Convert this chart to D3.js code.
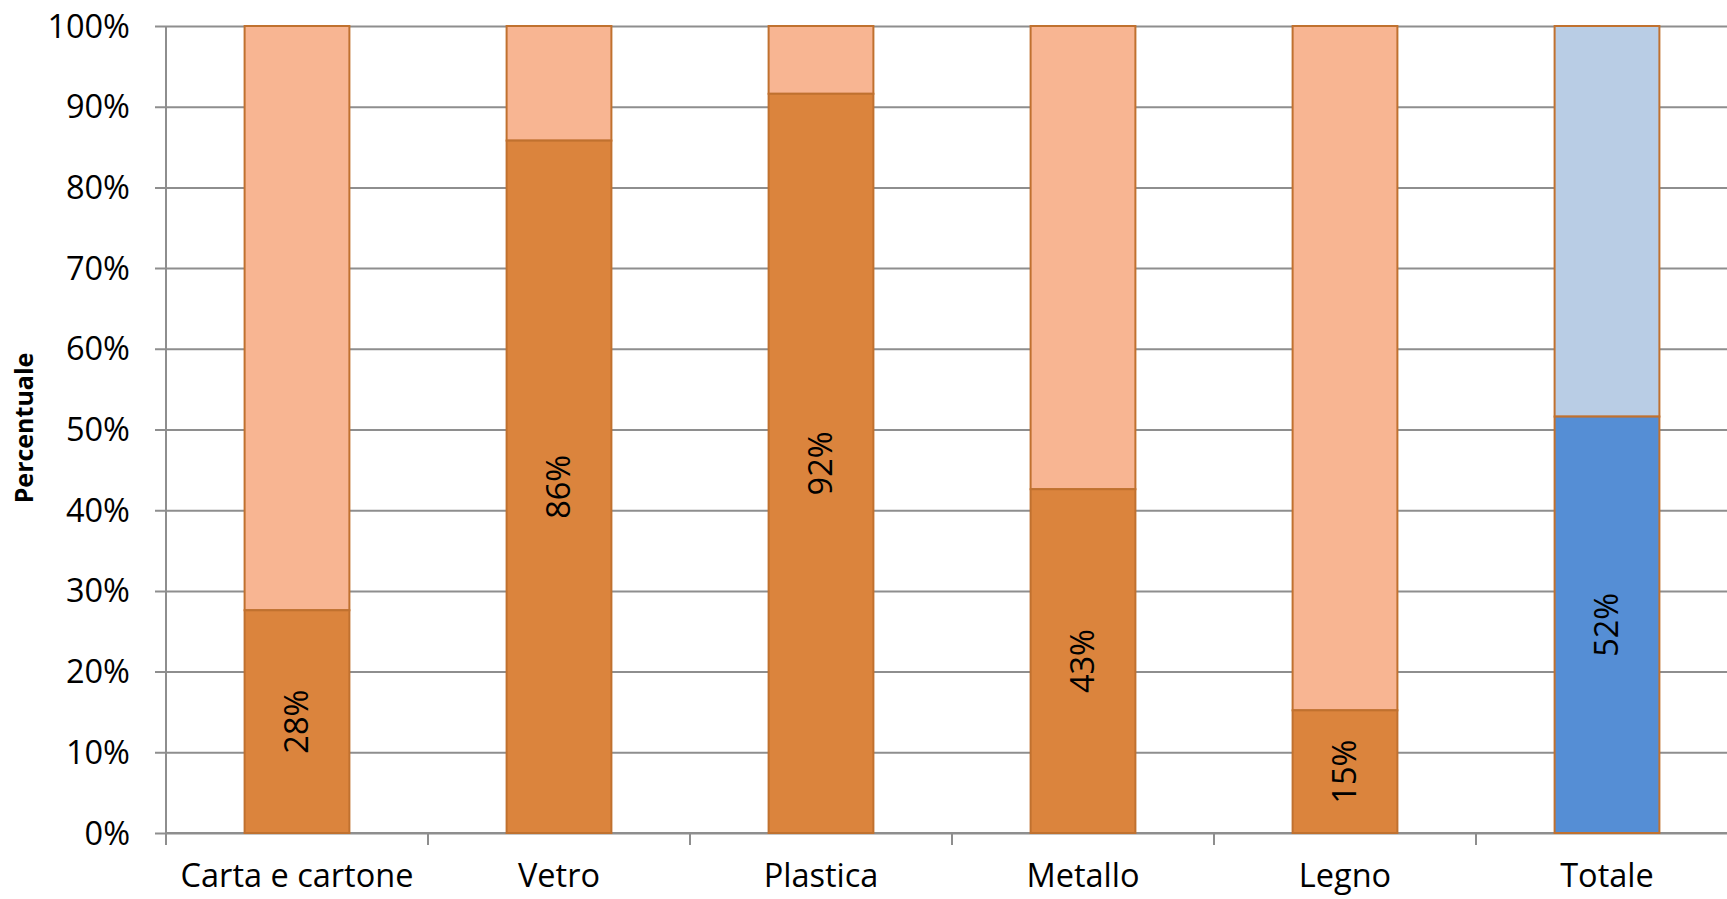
<!DOCTYPE html>
<html lang="it">
<head>
<meta charset="utf-8">
<script src="https://cdn.jsdelivr.net/npm/d3@7"></script>
<style>
  html, body { margin: 0; padding: 0; background: #fff; }
  svg { display: block; }
  text { font-family: "Open Sans", "Noto Sans", sans-serif; fill: #000; }
</style>
</head>
<body>
<svg id="chart" width="1727" height="899"></svg>
<script>
// Quota raccolta per materiale (parte scura) e resto fino al 100%
const categories = ["Carta e cartone", "Vetro", "Plastica", "Metallo", "Legno", "Totale"];
const shareValues = [0.276, 0.858, 0.916, 0.426, 0.152, 0.516];
const yTickValues = [0, 0.1, 0.2, 0.3, 0.4, 0.5, 0.6, 0.7, 0.8, 0.9, 1.0];
const yTitle = "Percentuale";

const colors = {
  share: "#DB843D",
  rest: "#F8B592",
  totalShare: "#558ED5",
  totalRest: "#B9CDE5",
  barStroke: "#C0712F",
  grid: "#8E8E8E"
};

const svg = d3.select("#chart");
const plot = { left: 166, top: 26, bottom: 833, right: 1738 };

const x = d3.scaleBand()
  .domain(categories)
  .range([plot.left, plot.right])
  .paddingInner(0.6)
  .paddingOuter(0.3);

const y = d3.scaleLinear()
  .domain([0, 1])
  .range([plot.bottom, plot.top]);

const pct = d3.format(".0%");

// Griglia orizzontale con tacche a sinistra dell'asse
const yAxis = d3.axisLeft(y)
  .tickValues(yTickValues)
  .tickFormat(pct)
  .tickSize(11)
  .tickPadding(26);

const gy = svg.append("g")
  .attr("transform", `translate(${plot.left},0)`)
  .call(yAxis);
gy.select(".domain").remove();
gy.selectAll(".tick line")
  .attr("stroke", colors.grid)
  .attr("stroke-width", 2)
  .attr("x1", -11)
  .attr("x2", 1727 - plot.left);
gy.selectAll(".tick text")
  .style("font-size", "32.5px")
  .attr("x", -36)
  .attr("dy", "0.34em");

// Asse verticale
svg.append("line")
  .attr("x1", plot.left).attr("x2", plot.left)
  .attr("y1", plot.top).attr("y2", plot.bottom + 12)
  .attr("stroke", colors.grid)
  .attr("stroke-width", 2);

// Asse orizzontale con tacche tra le categorie
const xAxis = d3.axisBottom(x).tickSize(0).tickPadding(0);
const gx = svg.append("g")
  .attr("transform", `translate(0,${plot.bottom})`)
  .call(xAxis);
gx.select(".domain").remove();
gx.selectAll(".tick text")
  .style("font-size", "32.5px")
  .attr("y", 54)
  .attr("dy", 0);

svg.append("line")
  .attr("x1", plot.left).attr("x2", 1727)
  .attr("y1", plot.bottom).attr("y2", plot.bottom)
  .attr("stroke", colors.grid)
  .attr("stroke-width", 2);

const step = x.step();
const boundaries = d3.range(1, categories.length).map(i => plot.left + i * step);
svg.append("g").selectAll("line")
  .data(boundaries)
  .join("line")
  .attr("x1", d => d).attr("x2", d => d)
  .attr("y1", plot.bottom).attr("y2", plot.bottom + 12)
  .attr("stroke", colors.grid)
  .attr("stroke-width", 2);

// Barre impilate al 100%
const rows = categories.map((c, i) => ({ category: c, value: shareValues[i], total: c === "Totale" }));

const bars = svg.append("g").selectAll("g")
  .data(rows)
  .join("g");

bars.append("rect")
  .attr("x", d => x(d.category))
  .attr("width", x.bandwidth())
  .attr("y", y(1))
  .attr("height", d => y(d.value) - y(1))
  .attr("fill", d => d.total ? colors.totalRest : colors.rest)
  .attr("stroke", colors.barStroke)
  .attr("stroke-width", 2);

bars.append("rect")
  .attr("x", d => x(d.category))
  .attr("width", x.bandwidth())
  .attr("y", d => y(d.value))
  .attr("height", d => y(0) - y(d.value))
  .attr("fill", d => d.total ? colors.totalShare : colors.share)
  .attr("stroke", colors.barStroke)
  .attr("stroke-width", 2);

bars.append("text")
  .attr("transform", d => `translate(${x(d.category) + x.bandwidth() / 2},${(y(0) + y(d.value)) / 2}) rotate(-90)`)
  .attr("text-anchor", "middle")
  .attr("dy", "0.35em")
  .style("font-size", "32.5px")
  .text(d => pct(d.value));

// Titolo asse Y
svg.append("text")
  .attr("transform", `translate(24,428) rotate(-90)`)
  .attr("text-anchor", "middle")
  .attr("dy", "0.35em")
  .style("font-size", "25px")
  .style("font-weight", "bold")
  .text(yTitle);
</script>
</body>
</html>
